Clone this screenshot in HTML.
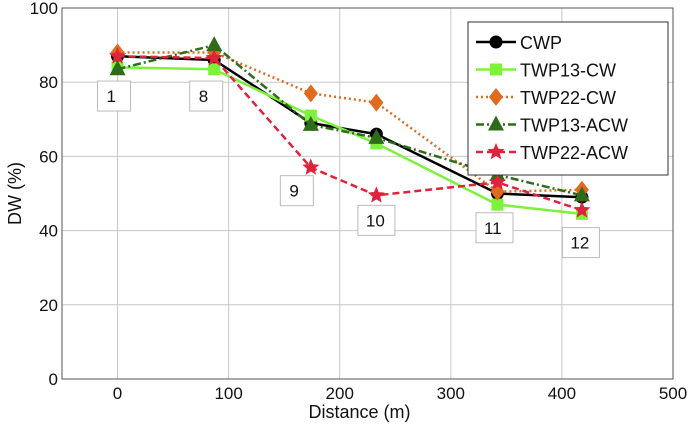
<!DOCTYPE html>
<html><head><meta charset="utf-8"><style>
body{margin:0;background:#fff;}
svg{display:block;font-family:"Liberation Sans",sans-serif;}
</style></head><body>
<svg id="chart" width="688" height="426"></svg>
<script>
const xTicks=[0,100,200,300,400,500];
const yTicks=[0,20,40,60,80,100];
const distances=[0,87,174,233,342,418];
const cwp=[87,86,69,66,50,49];
const twp13cw=[84,83.5,71,63.5,47,44.5];
const twp22cw=[88,88,77,74.5,50.5,51];
const twp13acw=[83.5,90,68.5,65,55,49.5];
const twp22acw=[87,86.5,57,49.5,53,45.5];
const pointLabels=["1","8","9","10","11","12"];
const labelValues=[79.5,79.5,54,46,44,40];

const L=62,R=673,T=8,B=379;
const X=v=>L+(v+50)/550*(R-L);
const Y=v=>B-v/100*(B-T);
const svg=document.getElementById('chart');
const NS='http://www.w3.org/2000/svg';
function el(t,a,p){const e=document.createElementNS(NS,t);for(const k in a)e.setAttribute(k,a[k]);(p||svg).appendChild(e);return e;}

el('rect',{x:L,y:T,width:R-L,height:B-T,fill:'#fff',stroke:'none'});
xTicks.forEach(v=>{
  const g=el('line',{x1:X(v),x2:X(v),y1:T,y2:B,stroke:'#c8c8c8','stroke-width':1});
  
  
  const t=el('text',{x:X(v),y:B+20,'text-anchor':'middle','font-size':17,fill:'#111'});
  t.textContent=v;
  
  
});
yTicks.forEach(v=>{
  const g=el('line',{x1:L,x2:R,y1:Y(v),y2:Y(v),stroke:'#c8c8c8','stroke-width':1});
  
  
  const t=el('text',{x:L-4,y:Y(v)+6,'text-anchor':'end','font-size':17,fill:'#111'});
  t.textContent=v;
  
  
});
const fr=el('rect',{x:L,y:T,width:R-L,height:B-T,fill:'none',stroke:'#555','stroke-width':1});



const xt=el('text',{x:(L+R)/2-8,y:418,'text-anchor':'middle','font-size':18,fill:'#111'});
xt.textContent='Distance (m)';


const yt=el('text',{x:0,y:0,'text-anchor':'middle','font-size':18,fill:'#111',transform:`translate(21,${(T+B)/2}) rotate(-90)`});
yt.textContent='DW (%)';



// point labels
const labelShift=[-3.5,-8,-14,0,-3,-1];
pointLabels.forEach((s,i)=>{
  const w=s.length>1?37:33;
  const cx=X(distances[i])+labelShift[i];
  const g=el('g',{});
  
  
  const top=Y(labelValues[i])-3;
  el('rect',{x:cx-w/2,y:top,width:w,height:30,fill:'#fff',stroke:'#bbb','stroke-width':1},g);
  const t=el('text',{x:cx-w/2+(s.length>1?8:9),y:top+21,'font-size':17,fill:'#111'},g);
  t.textContent=s;
});

function marker(type,x,y,color,g){
  if(type==='circle')el('circle',{cx:x,cy:y,r:6,fill:color,stroke:color},g);
  else if(type==='square')el('rect',{x:x-6,y:y-6,width:12,height:12,fill:color},g);
  else if(type==='diamond')el('polygon',{points:`${x},${y-9} ${x+7},${y} ${x},${y+9} ${x-7},${y}`,fill:color},g);
  else if(type==='triangle')el('polygon',{points:`${x},${y-9} ${x+8},${y+6} ${x-8},${y+6}`,fill:color},g);
  else if(type==='star'){let p=[];for(let k=0;k<10;k++){const r=k%2?4:9;const a=-Math.PI/2+k*Math.PI/5;p.push((x+r*Math.cos(a)).toFixed(1)+','+(y+r*Math.sin(a)).toFixed(1));}el('polygon',{points:p.join(' '),fill:color},g);}
}
const series=[
  {name:'CWP',vals:cwp,color:'#000',dash:'',m:'circle',w:2.5},
  {name:'TWP13-CW',vals:twp13cw,color:'#7cf23a',dash:'',m:'square',w:2.5},
  {name:'TWP22-CW',vals:twp22cw,color:'#e06a1e',dash:'2,3',m:'diamond',w:2.5},
  {name:'TWP13-ACW',vals:twp13acw,color:'#2e6b1a',dash:'8,3,2,3',m:'triangle',w:2.5},
  {name:'TWP22-ACW',vals:twp22acw,color:'#e0223c',dash:'7,4',m:'star',w:2.5}
];
series.forEach(s=>{
  const g=el('g',{});
  
  
  el('polyline',{points:s.vals.map((v,i)=>X(distances[i])+','+Y(v)).join(' '),fill:'none',stroke:s.color,'stroke-width':s.w,'stroke-dasharray':s.dash},g);
  s.vals.forEach((v,i)=>marker(s.m,X(distances[i]),Y(v),s.color,g));
});

// legend
const lg=el('g',{});


el('rect',{x:468,y:22,width:200,height:153,fill:'#fff',stroke:'#333','stroke-width':1},lg);
series.forEach((s,i)=>{
  const y=42+i*27.5;
  const g=el('g',{},lg);
  
  
  el('line',{x1:476,x2:516,y1:y,y2:y,stroke:s.color,'stroke-width':2.5,'stroke-dasharray':s.dash},g);
  marker(s.m,496,y,s.color,g);
  const t=el('text',{x:520,y:y+7,'font-size':18,fill:'#111'},g);
  t.textContent=s.name;
});
</script>
</body></html>
